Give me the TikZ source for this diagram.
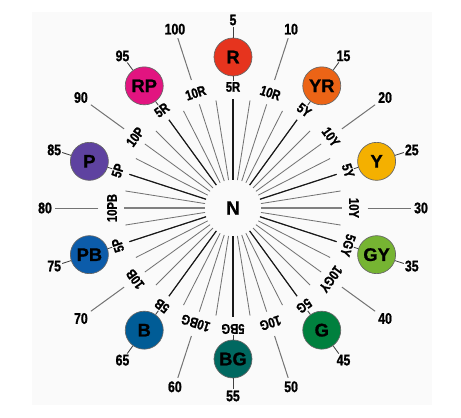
\documentclass[tikz,border=0pt]{standalone}
\usepackage{fontspec}
\setmainfont{Liberation Sans}[BoldFeatures={FakeBold=1}]
\newfontfamily\narrowfont{Liberation Sans}[FakeStretch=0.8,BoldFeatures={FakeBold=1.2}]
\usetikzlibrary{positioning}
\definecolor{hueR}{RGB}{230,52,30}
\definecolor{hueYR}{RGB}{236,100,22}
\definecolor{hueY}{RGB}{244,176,0}
\definecolor{hueGY}{RGB}{118,180,50}
\definecolor{hueG}{RGB}{0,128,62}
\definecolor{hueBG}{RGB}{0,104,96}
\definecolor{hueB}{RGB}{0,92,150}
\definecolor{huePB}{RGB}{12,92,170}
\definecolor{hueP}{RGB}{94,66,160}
\definecolor{hueRP}{RGB}{226,20,128}

\begin{document}
\begin{tikzpicture}[x=0.6pt,y=0.6pt,
  spoke/.style={draw=black!55,line width=0.5pt},
  keyspoke/.style={draw=black!90,line width=0.7pt},
  axisspoke/.style={draw=black!50,line width=0.9pt},
  tick/.style={draw=black!75,line width=0.5pt},
  outer/.style={draw=black!55,line width=0.6pt,shorten <=4.5pt,shorten >=1.5pt},
  chip/.style={circle,draw=black!60,line width=0.4pt,minimum size=22.8pt,inner sep=0pt,font=\fontsize{11}{11}\selectfont\bfseries},
  hue/.style={inner sep=0.5pt,font=\narrowfont\bfseries\fontsize{8.4}{9}\selectfont},
  num/.style={inner sep=0.5pt,font=\narrowfont\bfseries\fontsize{9.2}{10}\selectfont}]
  \useasboundingbox (-233,-209) rectangle (228,208);
  \fill[black!2] (-201,-197) rectangle (199,196);
  % neutral centre
  \node[circle,minimum size=33.6pt,inner sep=0pt,font=\fontsize{11.5}{12}\selectfont\bfseries] (N) at (0,0) {N};
  % spokes every 9 degrees
  \foreach \i in {0,...,39} {
    \coordinate (s\i) at ({90-9*\i}:109);
    \draw[spoke] (N) -- (s\i);
  }
  \foreach \i in {10,30} \draw[axisspoke] (N) -- (s\i);
  \foreach \i in {0,4,...,36} \draw[keyspoke] (N) -- (s\i);
  % hue labels along the rim
  \foreach \k/\txt in {0/5R,1/10R,2/5Y,3/10Y,4/5Y,5/10Y,6/5GY,7/10GY,8/5G,9/10G,
      10/5BG,11/10BG,12/5B,13/10B,14/5P,15/10PB,16/5P,17/10P,18/5R,19/10R}
    \node[hue,rotate=-18*\k] (lab\k) at ({90-18*\k}:121) {\txt};
  % hue numbers
  \foreach \k [evaluate=\k as \h using int(5+5*\k)] in {0,...,19}
    \node[num] (num\k) at ({90-18*\k}:188) {\h};
  \foreach \k in {1,3,...,19} \draw[outer] (lab\k) -- (num\k);
  % principal hue chips
  \foreach \k/\name in {0/R,2/YR,4/Y,6/GY,8/G,10/BG,12/B,14/PB,16/P,18/RP} {
    \node[chip,fill=hue\name] (c\k) at ({90-18*\k}:151) {\name};
    \draw[tick] (lab\k) -- (c\k);
    \draw[tick] (c\k) -- (num\k);
  }
\end{tikzpicture}
\end{document}
